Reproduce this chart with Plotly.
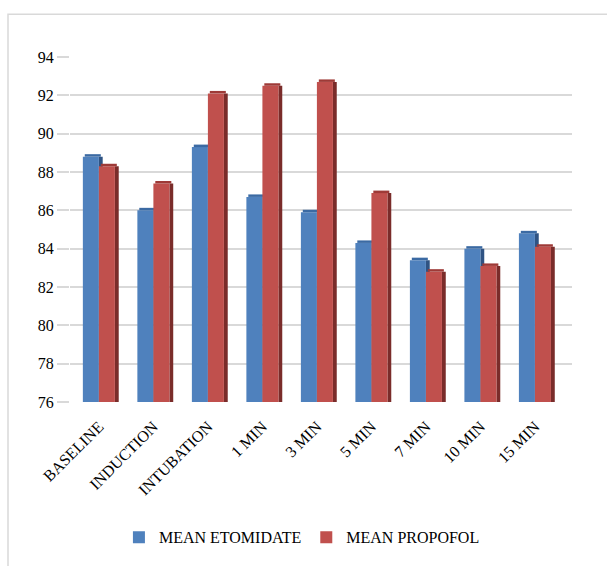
import plotly.graph_objects as go

# Mean values per time point for the two induction agents
categories = ["BASELINE", "INDUCTION", "INTUBATION", "1 MIN", "3 MIN",
              "5 MIN", "7 MIN", "10 MIN", "15 MIN"]
mean_etomidate = [88.8, 86.0, 89.3, 86.7, 85.9, 84.3, 83.4, 84.0, 84.8]
mean_propofol = [88.3, 87.4, 92.1, 92.5, 92.7, 86.9, 82.8, 83.1, 84.1]
y_ticks = [76, 78, 80, 82, 84, 86, 88, 90, 92, 94]

BLUE, BLUE_SIDE, BLUE_TOP = "#4f81bd", "#2f5383", "#3b6aa3"
RED, RED_SIDE, RED_TOP = "#c0504d", "#7a2c2a", "#9e3a37"
FONT = "Liberation Serif, Times New Roman, serif"

FACE_W = 0.294   # width of a column's front face (category units)
SIDE_W = 0.07    # width of the shaded right-hand side
CAP_H = 0.13     # thickness of the shaded top cap (value units)
CAP_SHIFT = 0.035

fig = go.Figure()


def add_column(values, name, face, side, top, offset):
    # shaded side face, peeking out to the right of the front face
    fig.add_trace(go.Bar(x=categories, y=values, offset=offset + FACE_W,
                         width=SIDE_W, marker=dict(color=side, line_width=0),
                         showlegend=False, hoverinfo="skip"))
    # front face
    fig.add_trace(go.Bar(x=categories, y=values, name=name, offset=offset,
                         width=FACE_W, marker=dict(color=face, line_width=0)))
    # top cap
    fig.add_trace(go.Bar(x=categories, y=[CAP_H] * len(values), base=values,
                         offset=offset + CAP_SHIFT, width=FACE_W,
                         marker=dict(color=top, line_width=0),
                         showlegend=False, hoverinfo="skip"))


add_column(mean_etomidate, "MEAN ETOMIDATE", BLUE, BLUE_SIDE, BLUE_TOP, -FACE_W)
add_column(mean_propofol, "MEAN PROPOFOL", RED, RED_SIDE, RED_TOP, 0.0)

fig.update_layout(
    width=607, height=566,
    margin=dict(l=70, r=35, t=57, b=162),
    paper_bgcolor="white", plot_bgcolor="white",
    barmode="overlay",
    font=dict(family=FONT, size=16, color="#000000"),
    showlegend=True,
    legend=dict(orientation="h", x=0.462, xanchor="center", y=-0.392,
                yanchor="middle", font=dict(family=FONT, size=16),
                itemwidth=30, traceorder="normal"),
    xaxis=dict(range=[-0.53, 8.68], showgrid=False, zeroline=False,
               showline=False, tickangle=-45, ticks="outside", ticklen=8,
               tickcolor="rgba(0,0,0,0)", tickfont=dict(family=FONT, size=16)),
    yaxis=dict(range=[76, 94], tickvals=y_ticks, showgrid=True,
               gridcolor="#d9d9d9", gridwidth=2, zeroline=False, showline=False,
               ticks="outside", ticklen=12, tickcolor="#d9d9d9", tickwidth=2,
               tickfont=dict(family=FONT, size=16)),
    shapes=[dict(type="rect", xref="paper", yref="paper",
                 x0=-0.1235, x1=1.08, y0=-0.48, y1=1.124,
                 line=dict(color="#d9d9d9", width=1.5), layer="below")],
)

fig.write_html("out.html")
